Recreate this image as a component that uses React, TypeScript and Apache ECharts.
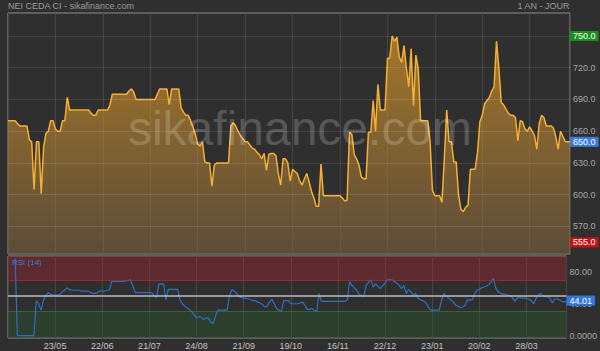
import React, { useEffect, useRef } from "react";
import * as echarts from "echarts";

const FONT = '"Liberation Sans", Arial, sans-serif';

const TITLE_LEFT = "NEI CEDA CI - sikafinance.com";
const TITLE_RIGHT = "1 AN - JOUR";
const WATERMARK = "sikafinance.com";
const RSI_NAME = "RSI (14)";

const DATE_LABELS = ["23/05", "22/06", "21/07", "24/08", "21/09", "19/10", "16/11", "22/12", "23/01", "20/02", "28/03"];

const PRICE_GRID = [570, 600, 630, 660, 690, 720];
const HIGH_MARK = 750;
const LAST_PRICE = 650;
const LOW_MARK = 555;

const RSI_TICKS = [0, 40, 80];
const RSI_LAST = 44.01;

const PRICES = [
  670, 670, 670, 670, 667, 665, 665, 665, 665, 652,
  650, 605, 650, 650, 601, 645, 658, 660, 670, 670,
  662, 660, 660, 670, 670, 692, 680, 680, 680, 680,
  680, 680, 680, 680, 680, 677, 675, 675, 680, 680,
  680, 680, 680, 685, 695, 695, 695, 695, 695, 695,
  695, 698, 700, 697, 690, 690, 690, 690, 690, 690,
  690, 690, 690, 695, 700, 700, 700, 700, 685, 700,
  700, 700, 700, 682, 678, 675, 675, 670, 664, 657,
  648, 646, 650, 631, 630, 630, 608, 628, 630, 630,
  630, 630, 630, 630, 665, 668, 665, 660, 656, 653,
  650, 650, 647, 644, 643, 640, 638, 634, 639, 623,
  638, 639, 639, 637, 620, 609, 634, 634, 630, 613,
  624, 622, 620, 613, 609, 615, 620, 612, 603, 597,
  589, 589, 629, 599, 599, 599, 599, 599, 599, 599,
  599, 597, 594, 595, 659, 657, 638, 634, 628, 617,
  615, 615, 659, 659, 689, 660, 704, 680, 680, 680,
  729, 729, 750, 745, 749, 730, 725, 741, 720, 702,
  738, 684, 732, 719, 670, 670, 670, 670, 650, 604,
  599, 599, 599, 593, 634, 680, 650, 650, 631, 631,
  600, 586, 584, 588, 590, 624, 624, 624, 640, 669,
  675, 686, 689, 692, 698, 702, 745, 720, 687, 685,
  681, 677, 675, 675, 673, 651, 670, 669, 662, 660,
  664, 660, 656, 643, 667, 675, 673, 665, 665, 665,
  663, 655, 643, 660, 655, 650, 650, 650,
];

const RSI = [
  null, null, null, 97, 0, 0, 0, 0, 0, 0,
  0, 0, 44, 40, 32, 44, 50, 54, 52, 51,
  51, 51, 52, 55, 57, 60, 58, 57, 57, 57,
  57, 56, 56, 56, 56, 54, 53, 53, 54, 56,
  56, 56, 57, 57, 68, 68, 68, 68, 68, 68,
  69, 69, 70, 62, 54, 54, 54, 54, 54, 54,
  54, 54, 50, 48, 65, 65, 65, 45, 58, 58,
  58, 58, 58, 45, 40, 37, 35, 33, 30, 26,
  22, 24, 23, 20, 22, 22, 17, 15, 24, 32,
  32, 32, 32, 32, 50, 58, 56, 53, 49, 48,
  47, 47, 46, 45, 44, 44, 42, 41, 39, 36,
  37, 42, 46, 40, 34, 32, 30, 44, 44, 44,
  40, 40, 40, 40, 41, 42, 38, 33, 33, 34,
  32, 30, 53, 43, 43, 43, 43, 43, 43, 43,
  43, 43, 43, 43, 45, 68, 63, 60, 57, 52,
  50, 49, 63, 67, 70, 61, 65, 62, 59, 63,
  66, 70, 70, 70, 68, 66, 63, 59, 63, 53,
  58, 55, 51, 53, 47, 45, 44, 42, 38, 33,
  32, 32, 32, 32, 45, 53, 50, 47, 45, 42,
  38, 37, 35, 36, 38, 45, 45, 45, 52, 57,
  58, 60, 61, 62, 64, 67, 72, 60, 55, 53,
  52, 52, 51, 50, 48, 43, 47, 48, 47, 47,
  47, 46, 44, 40, 46, 51, 53, 50, 49, 49,
  47, 41, 46, 46, 45, 43, 42, 44.01,
];

const GRID_LINE = "rgba(255,255,255,0.1)";
const HIDDEN_LINE = { color: "rgba(0,0,0,0)", width: 0.01, type: "solid" };

function boxLabel(text: string, bg: string) {
  return {
    show: true,
    position: "end",
    formatter: text,
    color: "#ffffff",
    backgroundColor: bg,
    fontSize: 9,
    fontFamily: FONT,
    padding: [1, 3, 0, 3],
    distance: 0,
  };
}

function grayLabel(text: string) {
  return {
    show: true,
    position: "end",
    formatter: text,
    color: "#a8a8a8",
    fontSize: 9,
    fontFamily: FONT,
    distance: 3,
  };
}

export default function App() {
  const ref = useRef<HTMLDivElement>(null);

  useEffect(() => {
    if (!ref.current) return;
    const chart = echarts.init(ref.current, null, { renderer: "svg" });
    const lastIndex = PRICES.length - 1;

    const xAxisBase = (gridIndex: number) => ({
      type: "value",
      gridIndex,
      min: 0,
      max: lastIndex,
      interval: 20,
      axisLine: { show: false },
      axisTick: { show: false },
      splitLine: { show: true, lineStyle: { color: "#474747", width: 1 } },
      axisLabel:
        gridIndex === 0
          ? { show: false }
          : {
              show: true,
              color: "#c4c4c4",
              fontSize: 9,
              fontFamily: FONT,
              margin: 3,
              formatter: (v: number) => (v === 0 ? "" : DATE_LABELS[v / 20 - 1] ?? ""),
            },
    });

    const option: any = {
      animation: false,
      backgroundColor: "#2f2f2f",
      textStyle: { fontFamily: FONT },
      title: [
        {
          text: TITLE_LEFT,
          left: 8,
          top: 1,
          padding: 0,
          textStyle: { color: "#9a9a9a", fontSize: 9, fontWeight: "normal", fontFamily: FONT },
        },
        {
          text: TITLE_RIGHT,
          right: 30,
          top: 1,
          padding: 0,
          textStyle: { color: "#9a9a9a", fontSize: 9, fontWeight: "normal", fontFamily: FONT },
        },
      ],
      grid: [
        { left: 8, right: 30, top: 13, height: 241, show: true, borderColor: "#8e8e8e", borderWidth: 1, backgroundColor: "transparent" },
        { left: 8, right: 30, top: 256, height: 82, show: true, borderColor: "#8e8e8e", borderWidth: 1, backgroundColor: "transparent" },
      ],
      xAxis: [xAxisBase(0), xAxisBase(1)],
      yAxis: [
        { type: "value", gridIndex: 0, min: 544, max: 771.7, show: false },
        {
          type: "value",
          gridIndex: 1,
          min: -3,
          max: 100,
          position: "right",
          axisLine: { show: false },
          axisTick: { show: false },
          splitLine: { show: false },
          axisLabel: {
            show: true,
            customValues: RSI_TICKS,
            margin: 3,
            color: "#a8a8a8",
            fontSize: 9,
            fontFamily: FONT,
            formatter: (v: number) => (v === 0 ? v.toFixed(4) : v.toFixed(2)),
          },
        },
      ],
      graphic: [
        {
          type: "text",
          x: 300,
          y: 128,
          z: 100,
          silent: true,
          style: {
            text: WATERMARK,
            fill: "rgba(255,255,255,0.2)",
            fontSize: 48,
            fontFamily: FONT,
            align: "center",
            verticalAlign: "middle",
            textAlign: "center",
            textVerticalAlign: "middle",
          },
        },
        {
          type: "text",
          x: 12,
          y: 258,
          z: 100,
          silent: true,
          style: {
            text: RSI_NAME,
            fill: "#3b7dd8",
            fontSize: 8,
            fontFamily: FONT,
          },
        },
      ],
      series: [
        {
          type: "line",
          xAxisIndex: 0,
          yAxisIndex: 0,
          data: PRICES.map((v, i) => [i, v]),
          symbol: "none",
          lineStyle: { color: "#f5b031", width: 1.5 },
          areaStyle: {
            origin: "start",
            color: new echarts.graphic.LinearGradient(0, 0, 0, 1, [
              { offset: 0, color: "rgba(236,162,40,0.88)" },
              { offset: 1, color: "rgba(122,96,62,0.86)" },
            ]),
          },
          markLine: {
            silent: true,
            symbol: "none",
            animation: false,
            data: [
              ...PRICE_GRID.map((v) => ({
                yAxis: v,
                lineStyle: { color: GRID_LINE, width: 1, type: "solid" },
                label: grayLabel(v.toFixed(1)),
              })),
              { yAxis: HIGH_MARK, lineStyle: { color: GRID_LINE, width: 1, type: "solid" }, label: boxLabel(HIGH_MARK.toFixed(1), "#1b8f1b") },
              { yAxis: LAST_PRICE, lineStyle: HIDDEN_LINE, label: boxLabel(LAST_PRICE.toFixed(1), "#3a7be0") },
              { yAxis: LOW_MARK, lineStyle: HIDDEN_LINE, label: boxLabel(LOW_MARK.toFixed(1), "#c41414") },
            ],
          },
        },
        {
          type: "line",
          xAxisIndex: 1,
          yAxisIndex: 1,
          data: RSI.map((v, i) => [i, v]),
          symbol: "none",
          connectNulls: false,
          lineStyle: { color: "#2e6fc2", width: 1.2 },
          markArea: {
            silent: true,
            data: [
              [{ yAxis: 70, itemStyle: { color: "rgba(150,38,48,0.45)" } }, { yAxis: 100 }],
              [{ yAxis: -3, itemStyle: { color: "rgba(40,85,40,0.42)" } }, { yAxis: 30 }],
            ],
          },
          markLine: {
            silent: true,
            symbol: "none",
            animation: false,
            z: 10,
            data: [
              { yAxis: 70, lineStyle: { color: "rgba(190,40,50,0.7)", width: 1, type: "solid" }, label: { show: false } },
              { yAxis: 30, lineStyle: { color: "rgba(60,130,60,0.6)", width: 1, type: "solid" }, label: { show: false } },
              { yAxis: 50, lineStyle: { color: "#bdbdbd", width: 1.5, type: "solid" }, label: { show: false } },
              { yAxis: RSI_LAST, lineStyle: HIDDEN_LINE, label: boxLabel(RSI_LAST.toFixed(2), "#2f78e0") },
            ],
          },
        },
      ],
    };

    chart.setOption(option);
    return () => chart.dispose();
  }, []);

  return <div ref={ref} style={{ position: "absolute", left: 0, top: 0, width: 600, height: 351 }} />;
}
